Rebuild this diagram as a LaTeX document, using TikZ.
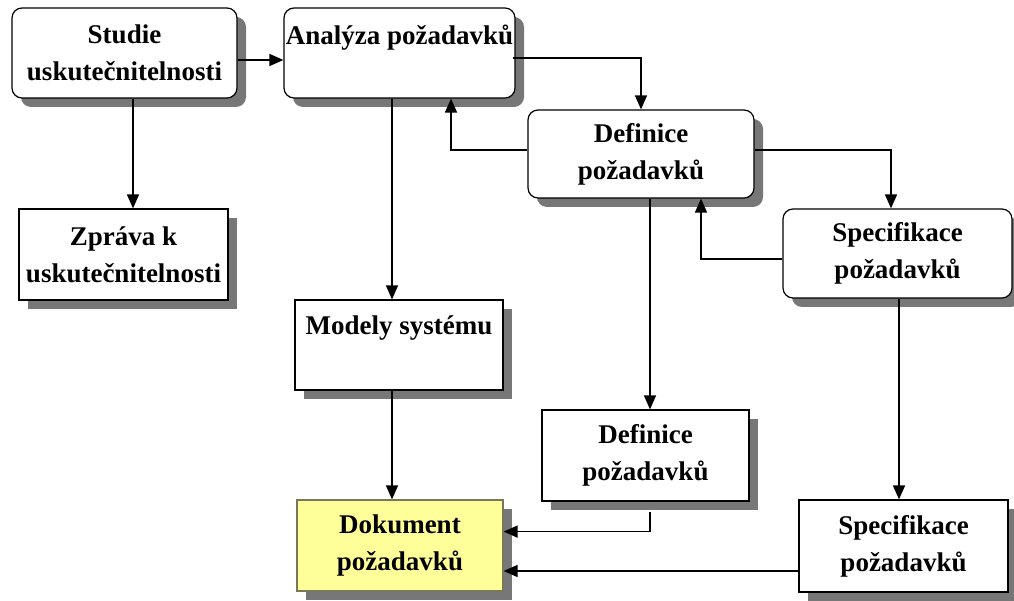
\documentclass[tikz,border=0pt]{standalone}
\usepackage{fontspec}
\setmainfont{Liberation Serif}
\usetikzlibrary{arrows.meta,shadows}
\definecolor{shadowgray}{HTML}{777777}
\definecolor{dokfill}{HTML}{FFFF99}
\definecolor{dokborder}{RGB}{120,120,90}
\tikzset{
  base/.style={draw=black, line width=1.2pt, fill=white, inner sep=0pt,
    align=center, font=\fontsize{27}{37}\selectfont\bfseries,
    drop shadow={shadow xshift=9pt, shadow yshift=-9pt, fill=shadowgray, opacity=1}},
  roundbox/.style={base, rounded corners=10pt},
  rectbox/.style={base},
  dokbox/.style={base, fill=dokfill, draw=dokborder},
  boxtext/.style={inner sep=0pt, font=\fontsize{27}{37}\selectfont\bfseries},
  conn/.style={line width=1.5pt, -{Triangle[length=14pt,width=12pt]}},
  plainline/.style={line width=1.5pt}
}
\begin{document}
\begin{tikzpicture}[x=1pt,y=1pt]
\useasboundingbox (0,0) rectangle (1014,601);
% rounded boxes
\node[roundbox, minimum width=225pt, minimum height=90pt] (studie) at (124.5,548) {Studie\\uskutečnitelnosti};
\node[roundbox, minimum width=231pt, minimum height=90pt] (analyza) at (399.5,548) {};
\node[boxtext, anchor=base] (analyzat) at ([yshift=-37pt]analyza.north) {Analýza požadavků};
\node[roundbox, minimum width=226pt, minimum height=88pt] (defR) at (641,447) {Definice\\požadavků};
\node[roundbox, minimum width=229pt, minimum height=89pt] (specR) at (897.5,347.5) {Specifikace\\požadavků};
% rect boxes
\node[rectbox, minimum width=209pt, minimum height=91pt] (zprava) at (123.5,346.5) {Zpráva k\\uskutečnitelnosti};
\node[rectbox, minimum width=208pt, minimum height=90pt] (modely) at (399,256) {};
\node[boxtext, anchor=base] (modelyt) at ([yshift=-35pt]modely.north) {Modely systému};
\node[rectbox, minimum width=207pt, minimum height=91pt] (defS) at (645.5,145.5) {Definice\\požadavků};
\node[rectbox, minimum width=209pt, minimum height=92pt] (specS) at (903.5,55) {Specifikace\\požadavků};
\node[dokbox, minimum width=206pt, minimum height=91pt] (dok) at (400,55.5) {Dokument\\požadavků};
% connectors
\draw[conn] ([yshift=-7pt]studie.east) -- ([yshift=-7pt]studie.east -| analyza.west);
\draw[conn] ([xshift=8.5pt]studie.south) -- ([xshift=8.5pt]studie.south |- zprava.north);
\draw[conn] ([xshift=-3pt,yshift=-5pt]analyza.east) -| (defR.north);
\draw[conn] ([yshift=4pt]defR.west) -| ([xshift=51.5pt]analyza.south);
\draw[conn] ([xshift=-7.5pt]analyza.south) -- ([xshift=-7.5pt]analyza.south |- modely.north);
\draw[conn] ([yshift=4pt]defR.east) -| ([xshift=-6.5pt]specR.north);
\draw[conn] ([yshift=-5.5pt]specR.west) -| ([xshift=60pt]defR.south);
\draw[conn] ([xshift=9pt]defR.south) -- ([xshift=9pt]defR.south |- defS.north);
\draw[conn] ([xshift=1.5pt]specR.south) -- ([xshift=1.5pt]specR.south |- specS.north);
\draw[conn] ([xshift=-7pt]modely.south) -- ([xshift=-7pt]modely.south |- dok.north);
\coordinate (bend) at ([xshift=4.5pt,yshift=-30pt]defS.south);
\draw[plainline] ([xshift=4.5pt,yshift=-10pt]defS.south) -- (bend);
\draw[conn] (bend) -- (bend -| dok.east);
\draw[conn] ([yshift=-25pt]specS.west) -- ([yshift=-25pt]specS.west -| dok.east);
\end{tikzpicture}
\end{document}
